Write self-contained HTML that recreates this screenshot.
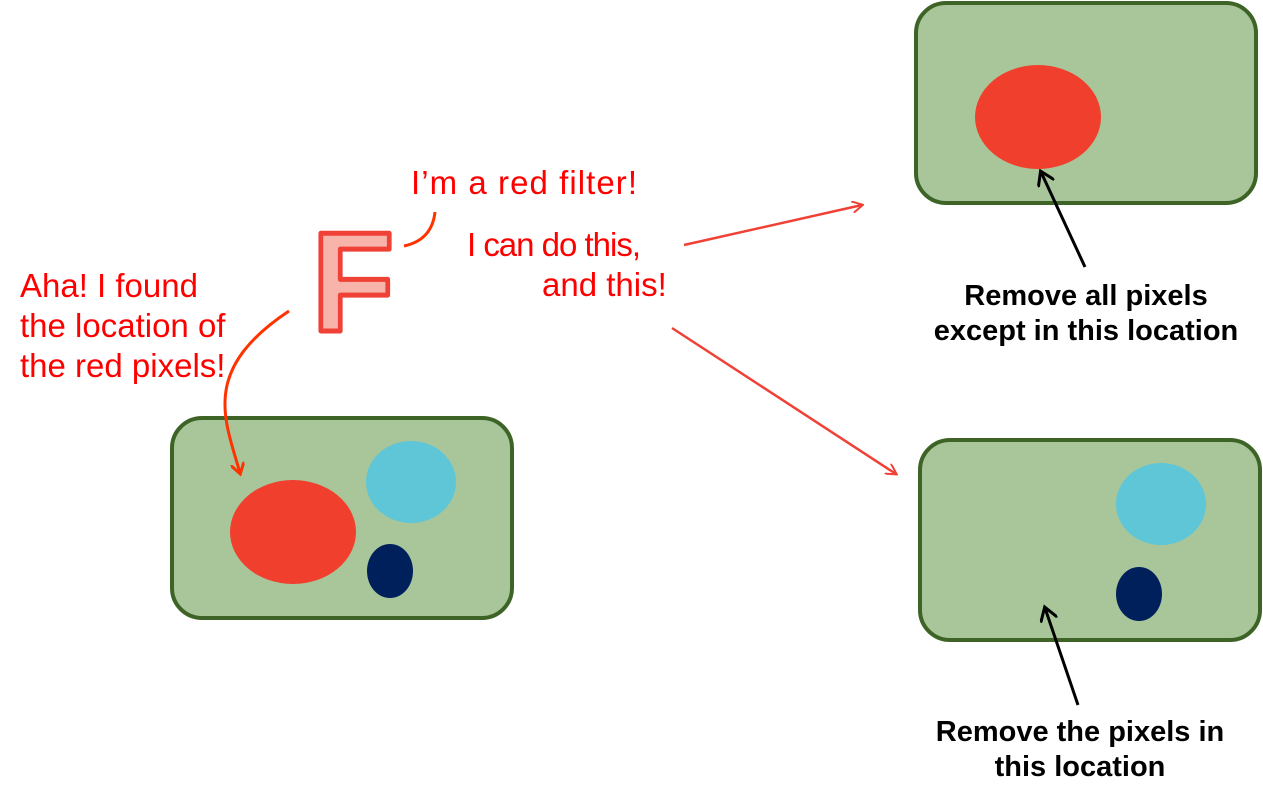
<!DOCTYPE html>
<html><head><meta charset="utf-8"><style>
body{margin:0;background:#fff}
svg{display:block}
text{font-family:"Liberation Sans",Arial,sans-serif}
</style></head><body>
<svg width="1263" height="801" viewBox="0 0 1263 801">
<defs>
<marker id="ar" markerWidth="12" markerHeight="12" refX="10" refY="6" orient="auto" markerUnits="userSpaceOnUse"><path d="M0,0 L11,6 L0,12" fill="none" stroke="#ef4136" stroke-width="2"/></marker>
<marker id="ar2" markerWidth="14" markerHeight="14" refX="10" refY="7" orient="auto" markerUnits="userSpaceOnUse"><path d="M0,0 L11,7 L0,14" fill="none" stroke="#ff3300" stroke-width="3"/></marker>
<marker id="ak" markerWidth="18" markerHeight="18" refX="13" refY="9" orient="auto" markerUnits="userSpaceOnUse"><path d="M0,0 L14,9 L0,18" fill="none" stroke="#000" stroke-width="3"/></marker>
</defs>

<g>
<rect x="172" y="418" width="340" height="200" rx="30" fill="#a9c69b" stroke="#3d6426" stroke-width="4"/>
<ellipse cx="293" cy="532" rx="63" ry="52" fill="#f0402d"/>
<ellipse cx="411" cy="482" rx="45" ry="41" fill="#5ec6d6"/>
<ellipse cx="390" cy="571" rx="23" ry="27" fill="#00205b"/>
</g>

<g>
<rect x="916" y="3" width="340" height="200" rx="30" fill="#a9c69b" stroke="#3d6426" stroke-width="4"/>
<ellipse cx="1038" cy="117" rx="63" ry="52" fill="#f0402d"/>
</g>

<g>
<rect x="920" y="440" width="340" height="200" rx="30" fill="#a9c69b" stroke="#3d6426" stroke-width="4"/>
<ellipse cx="1161" cy="504" rx="45" ry="41" fill="#5ec6d6"/>
<ellipse cx="1139" cy="594" rx="23" ry="27" fill="#00205b"/>
</g>

<text x="353" y="331" font-size="142" font-weight="bold" fill="#f8b3ab" stroke="#ef4136" stroke-width="5" stroke-linejoin="round" text-anchor="middle" transform="translate(353,0) scale(0.95,1) translate(-353,0)">F</text>

<path d="M404,246 Q432,240 435,212" fill="none" stroke="#ff3300" stroke-width="3"/>
<path d="M289,311 C200,370 225,420 240,473" fill="none" stroke="#ff3300" stroke-width="3" marker-end="url(#ar2)"/>
<line x1="684" y1="245" x2="862" y2="205" stroke="#ef4136" stroke-width="2.5" marker-end="url(#ar)"/>
<line x1="672" y1="328" x2="896" y2="474" stroke="#ef4136" stroke-width="2.5" marker-end="url(#ar)"/>
<line x1="1085" y1="267" x2="1041" y2="172" stroke="#000" stroke-width="3" marker-end="url(#ak)"/>
<line x1="1078" y1="705" x2="1045" y2="608" stroke="#000" stroke-width="3" marker-end="url(#ak)"/>

<g fill="#ff0000" font-size="33">
<text x="411" y="194" textLength="226">I’m a red filter!</text>
<text x="467" y="256" textLength="174">I can do this,</text>
<text x="542" y="296">and this!</text>
<text x="20" y="297">Aha! I found</text>
<text x="20" y="337">the location of</text>
<text x="20" y="377">the red pixels!</text>
</g>
<g fill="#000" font-size="29" font-weight="bold" text-anchor="middle">
<text x="1086" y="305">Remove all pixels</text>
<text x="1086" y="340">except in this location</text>
<text x="1080" y="741">Remove the pixels in</text>
<text x="1080" y="776">this location</text>
</g>
</svg>
</body></html>
